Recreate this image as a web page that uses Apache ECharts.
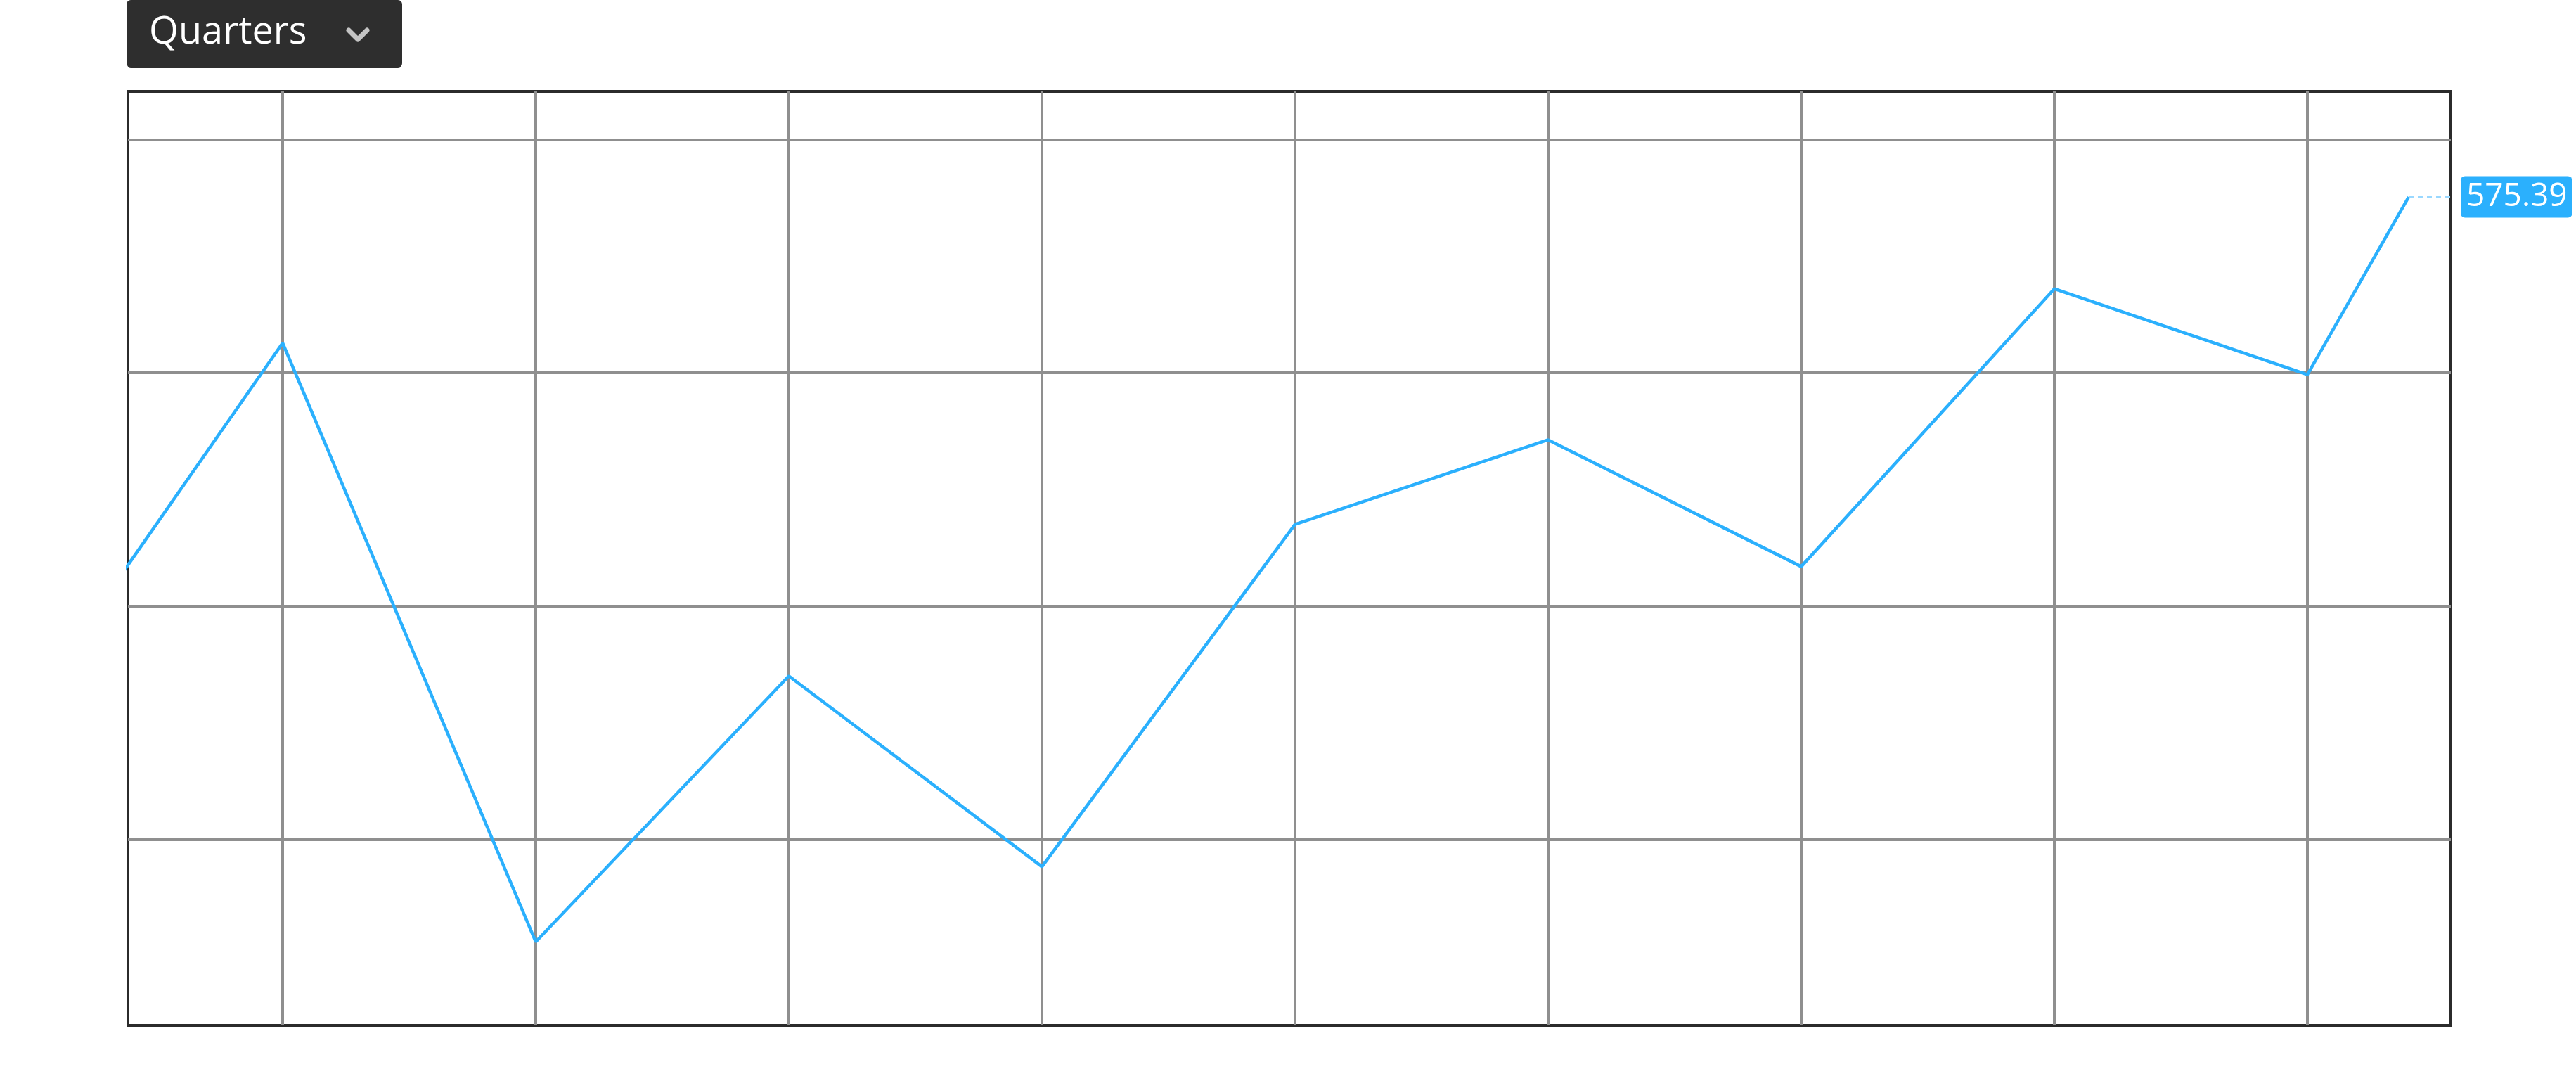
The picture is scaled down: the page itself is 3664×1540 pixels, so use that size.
<!DOCTYPE html>
<html>
<head>
<meta charset="utf-8">
<script src="https://cdn.jsdelivr.net/npm/echarts@6/dist/echarts.min.js"></script>
<style>
html,body{margin:0;padding:0;background:#fff;}
#chart{width:3664px;height:1540px;}
</style>
</head>
<body>
<div id="chart"></div>
<script>
// Quarter index positions (0 = first vertical gridline); last point is mid-quarter
const quarterPos = [-1, 0, 1, 2, 3, 4, 5, 6, 7, 8, 8.4];
const prices = [357.1, 512.8, 256.2, 370.1, 288.4, 435.1, 471.3, 417.0, 536.0, 499.3, 575.39];
const verticalGrid = [0, 1, 2, 3, 4, 5, 6, 7, 8];
const horizontalGrid = [300, 400, 500, 600];
const periodLabel = 'Quarters';

const BLUE = '#2bb0fd';
const lineData = quarterPos.map((x, i) => [x, prices[i]]);
const lastX = quarterPos[quarterPos.length - 1];
const lastY = prices[prices.length - 1];
const xMin = -0.6111, xMax = 8.5667;
const yMin = 220.4, yMax = 620.6;

const gridLines = [];
verticalGrid.forEach(v => gridLines.push({ xAxis: v }));
horizontalGrid.forEach(v => gridLines.push({ yAxis: v }));

const chart = echarts.init(document.getElementById('chart'), null, { renderer: 'canvas' });
chart.setOption({
  animation: false,
  backgroundColor: '#ffffff',
  grid: {
    left: 182, top: 130, right: 178, bottom: 82,
    show: true, borderColor: '#2b2b2b', borderWidth: 4, backgroundColor: 'transparent'
  },
  xAxis: { type: 'value', min: xMin, max: xMax, show: false },
  yAxis: { type: 'value', min: yMin, max: yMax, show: false },
  graphic: [
    {
      type: 'rect', left: 180, top: 0, z: 10,
      shape: { width: 392, height: 96, r: 6 },
      style: { fill: '#2e2e2e' }
    },
    {
      type: 'text', left: 212, top: 20, z: 11,
      style: { text: periodLabel, fill: '#ffffff', font: '54px "Open Sans", sans-serif' }
    },
    {
      type: 'polyline', z: 11,
      shape: { points: [[496, 43], [509, 56], [522, 43]] },
      style: { stroke: '#c4c4c4', lineWidth: 7, fill: null, lineCap: 'round', lineJoin: 'round' }
    }
  ],
  series: [
    {
      type: 'line', data: [], z: 1, silent: true,
      markLine: {
        silent: true, z: 1, symbol: ['none', 'none'],
        label: { show: false },
        lineStyle: { color: '#8f8f8f', width: 4, type: 'solid' },
        emphasis: { disabled: true },
        data: gridLines
      }
    },
    {
      type: 'line', data: lineData, z: 3, clip: true,
      symbol: 'none', silent: true,
      lineStyle: { color: BLUE, width: 4.5 },
      markLine: {
        silent: true, z: 4, symbol: ['none', 'none'],
        lineStyle: { color: '#9ad8ff', width: 4, type: [7, 6] },
        emphasis: { disabled: true },
        label: {
          show: true, position: 'end', distance: 14,
          formatter: () => lastY.toFixed(2),
          color: '#ffffff', backgroundColor: BLUE, borderRadius: 6,
          fontFamily: '"Open Sans", sans-serif', fontSize: 46, lineHeight: 44,
          padding: [8, 7, 7, 8]
        },
        data: [[{ coord: [lastX, lastY] }, { coord: [xMax, lastY] }]]
      }
    }
  ]
});
</script>
</body>
</html>
